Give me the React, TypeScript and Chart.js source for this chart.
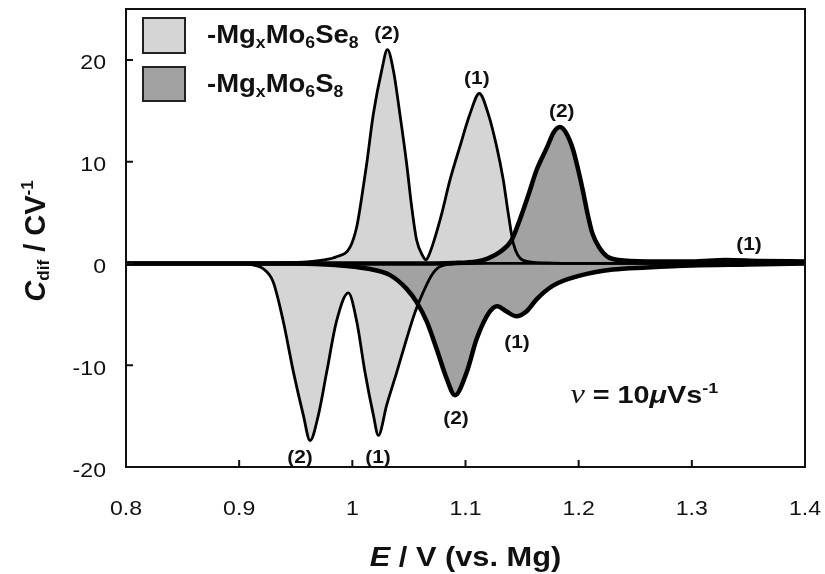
import React, { useEffect, useRef } from "react";
import { Chart, registerables } from "chart.js";

Chart.register(...registerables);

// ---- axis ticks ----
const E_TICKS = [0.8, 0.9, 1.0, 1.1, 1.2, 1.3, 1.4];
const E_TICK_LABELS = ["0.8", "0.9", "1", "1.1", "1.2", "1.3", "1.4"];
const C_TICKS = [-20, -10, 0, 10, 20];
const C_TICK_LABELS = ["-20", "-10", "0", "10", "20"];

// ---- MgxMo6Se8 : anodic (positive) branch ----
const SE_ANODIC_E = [0.8, 0.9, 0.94, 0.96, 0.972, 0.986, 0.998, 1.0039, 1.0083, 1.0127, 1.0186, 1.026, 1.031, 1.0362, 1.042, 1.048, 1.0524, 1.0568, 1.0627, 1.065, 1.067, 1.0715, 1.079, 1.0863, 1.0951, 1.104, 1.1122, 1.1201, 1.1275, 1.1334, 1.1378, 1.1422, 1.151, 1.17, 1.2, 1.4];
const SE_ANODIC_C = [0, 0, 0.05, 0.15, 0.3, 0.65, 1.6, 3.6, 6.5, 9.8, 14.7, 19.0, 21.0, 19.0, 14.7, 9.8, 5.6, 2.3, 0.65, 0.35, 0.65, 2.0, 4.9, 8.2, 11.5, 14.7, 16.7, 14.7, 11.5, 8.2, 4.9, 2.0, 0.3, 0.05, 0, 0];

// ---- MgxMo6Se8 : cathodic (negative) branch ----
const SE_CATHODIC_E = [0.8, 0.9, 0.912, 0.921, 0.93, 0.939, 0.948, 0.9567, 0.9626, 0.97, 0.9773, 0.986, 0.9965, 1.0039, 1.0112, 1.0186, 1.023, 1.0304, 1.0392, 1.048, 1.0554, 1.0627, 1.0701, 1.0775, 1.09, 1.12, 1.4];
const SE_CATHODIC_C = [0, 0, -0.15, -0.5, -1.8, -5.7, -10.7, -14.9, -17.4, -14.9, -10.7, -5.7, -2.9, -5.7, -10.7, -14.9, -16.9, -13.9, -10.7, -7.4, -4.8, -2.8, -1.15, -0.3, -0.05, 0, 0];

// ---- MgxMo6S8 : anodic (positive) branch ----
const S_ANODIC_E = [0.8, 1.05, 1.09, 1.11, 1.12, 1.13, 1.1408, 1.148, 1.1555, 1.1629, 1.172, 1.178, 1.1835, 1.189, 1.195, 1.2, 1.204, 1.208, 1.212, 1.218, 1.225, 1.24, 1.27, 1.3, 1.33, 1.36, 1.4];
const S_ANODIC_C = [0, 0, 0.05, 0.2, 0.5, 1.1, 2.3, 4.3, 6.7, 9.2, 11.4, 12.9, 13.4, 12.8, 11.2, 9, 7, 4.8, 3, 1.6, 0.7, 0.3, 0.2, 0.2, 0.35, 0.25, 0.2];

// ---- MgxMo6S8 : cathodic (negative) branch ----
const S_CATHODIC_E = [0.8, 0.95, 0.985, 1.0127, 1.0333, 1.048, 1.0568, 1.0657, 1.0745, 1.0833, 1.0907, 1.101, 1.1099, 1.121, 1.128, 1.136, 1.145, 1.154, 1.163, 1.177, 1.201, 1.23, 1.26, 1.3, 1.35, 1.4];
const S_CATHODIC_C = [0, 0, -0.15, -0.5, -1.15, -2.5, -3.8, -5.7, -8.4, -11.3, -12.95, -10.7, -7.4, -4.8, -4.2, -4.7, -5.2, -4.7, -3.5, -2.2, -1.2, -0.6, -0.4, -0.2, -0.1, 0];

// ---- peak annotations (text, E, C) ----
const PEAK_LABELS = ["(2)", "(1)", "(2)", "(1)", "(1)", "(2)", "(2)", "(1)"];
const PEAK_LABEL_E = [1.0306, 1.11, 1.185, 1.3505, 1.1455, 1.0916, 0.9538, 1.0227];
const PEAK_LABEL_C = [22.75, 18.3, 15.07, 2.0, -7.6, -15.1, -18.9, -18.9];
const RATE_LABEL_E = 1.258;
const RATE_LABEL_C = -12.95;

const SE_FILL = "#d5d5d5";
const S_FILL = "#a2a2a2";
const SANS = "'Liberation Sans', Arial, sans-serif";
const SERIF = "'Liberation Serif', 'DejaVu Serif', serif";
const SX = 1.1;

type Seg = { text: string; font: string; dy?: number };

function drawRich(ctx: CanvasRenderingContext2D, segs: Seg[], x: number, y: number, align: string, sx: number) {
  let w = 0;
  const widths: number[] = [];
  for (const s of segs) {
    ctx.font = s.font;
    const m = ctx.measureText(s.text).width;
    widths.push(m);
    w += m;
  }
  let cx = align === "center" ? -w / 2 : align === "right" ? -w : 0;
  ctx.save();
  ctx.translate(x, y);
  ctx.scale(sx, 1);
  ctx.textAlign = "left";
  ctx.textBaseline = "alphabetic";
  ctx.fillStyle = "#111";
  segs.forEach((s, i) => {
    ctx.font = s.font;
    ctx.fillText(s.text, cx, s.dy || 0);
    cx += widths[i];
  });
  ctx.restore();
}

function toPoints(xs: number[], ys: number[]) {
  return xs.map((x, i) => ({ x, y: ys[i] }));
}

const decorPlugin = {
  id: "decor",
  afterDraw(chart: any) {
    const ctx: CanvasRenderingContext2D = chart.ctx;
    const { left, right, top, bottom } = chart.chartArea;
    const xs = chart.scales.x;
    const ys = chart.scales.y;
    ctx.save();
    // frame
    ctx.strokeStyle = "#111";
    ctx.lineWidth = 2;
    ctx.strokeRect(left, top, right - left, bottom - top);
    // inward ticks
    ctx.beginPath();
    E_TICKS.forEach((v) => {
      const px = xs.getPixelForValue(v);
      ctx.moveTo(px, bottom);
      ctx.lineTo(px, bottom - 7);
    });
    C_TICKS.forEach((v) => {
      const py = ys.getPixelForValue(v);
      ctx.moveTo(left, py);
      ctx.lineTo(left + 7, py);
    });
    ctx.stroke();
    // tick labels
    E_TICKS.forEach((v, i) => {
      drawRich(ctx, [{ text: E_TICK_LABELS[i], font: `21px ${SANS}` }], xs.getPixelForValue(v), bottom + 48, "center", SX);
    });
    C_TICKS.forEach((v, i) => {
      drawRich(ctx, [{ text: C_TICK_LABELS[i], font: `21px ${SANS}` }], left - 20, ys.getPixelForValue(v) + 9.5, "right", SX);
    });
    // x title
    drawRich(
      ctx,
      [
        { text: "E", font: `italic bold 28px ${SANS}` },
        { text: " / V (vs. Mg)", font: `bold 28px ${SANS}` },
      ],
      (left + right) / 2,
      566,
      "center",
      SX
    );
    // y title (rotated)
    ctx.save();
    ctx.translate(35, (top + bottom) / 2 + 3);
    ctx.rotate(-Math.PI / 2);
    drawRich(
      ctx,
      [
        { text: "C", font: `italic bold 29px ${SANS}` },
        { text: "dif", font: `bold 17px ${SANS}`, dy: 4 },
        { text: " / CV", font: `bold 29px ${SANS}` },
        { text: "-1", font: `bold 17px ${SANS}`, dy: -12 },
      ],
      0,
      10,
      "center",
      1
    );
    ctx.restore();
    // legend
    const boxes = [
      { fill: SE_FILL, y: 18, h: 35, last: "Se", base: 43 },
      { fill: S_FILL, y: 67, h: 34, last: "S", base: 92 },
    ];
    boxes.forEach((b) => {
      ctx.fillStyle = b.fill;
      ctx.fillRect(143, b.y, 42, b.h);
      ctx.strokeStyle = "#222";
      ctx.lineWidth = 2;
      ctx.strokeRect(143, b.y, 42, b.h);
      drawRich(
        ctx,
        [
          { text: "-Mg", font: `bold 25px ${SANS}` },
          { text: "x", font: `bold 16px ${SANS}`, dy: 5 },
          { text: "Mo", font: `bold 25px ${SANS}` },
          { text: "6", font: `bold 16px ${SANS}`, dy: 5 },
          { text: b.last, font: `bold 25px ${SANS}` },
          { text: "8", font: `bold 16px ${SANS}`, dy: 5 },
        ],
        207,
        b.base,
        "left",
        SX
      );
    });
    // peak labels
    PEAK_LABELS.forEach((t, i) => {
      const px = xs.getPixelForValue(PEAK_LABEL_E[i]);
      const py = ys.getPixelForValue(PEAK_LABEL_C[i]);
      drawRich(ctx, [{ text: t, font: `bold 19px ${SANS}` }], px, py + 7, "center", SX);
    });
    // scan rate label
    drawRich(
      ctx,
      [
        { text: "\u03BD", font: `italic 27px ${SERIF}` },
        { text: " = 10", font: `bold 24px ${SANS}` },
        { text: "\u03BC", font: `italic bold 24px ${SANS}` },
        { text: "Vs", font: `bold 24px ${SANS}` },
        { text: "-1", font: `bold 15px ${SANS}`, dy: -10 },
      ],
      xs.getPixelForValue(RATE_LABEL_E),
      ys.getPixelForValue(RATE_LABEL_C) + 8,
      "center",
      1.2
    );
    ctx.restore();
  },
};

export default function App() {
  const ref = useRef<HTMLCanvasElement | null>(null);
  useEffect(() => {
    if (!ref.current) return;
    const common = {
      pointRadius: 0,
      pointHoverRadius: 0,
      cubicInterpolationMode: "monotone" as const,
      borderColor: "#000",
      borderJoinStyle: "round" as const,
      fill: "origin",
    };
    const chart = new Chart(ref.current, {
      type: "line",
      data: {
        datasets: [
          { ...common, label: "S anodic", data: toPoints(S_ANODIC_E, S_ANODIC_C), borderWidth: 4.5, backgroundColor: S_FILL },
          { ...common, label: "S cathodic", data: toPoints(S_CATHODIC_E, S_CATHODIC_C), borderWidth: 4.5, backgroundColor: S_FILL },
          { ...common, label: "Se anodic", data: toPoints(SE_ANODIC_E, SE_ANODIC_C), borderWidth: 2.8, backgroundColor: SE_FILL },
          { ...common, label: "Se cathodic", data: toPoints(SE_CATHODIC_E, SE_CATHODIC_C), borderWidth: 2.8, backgroundColor: SE_FILL },
        ] as any,
      },
      options: {
        animation: false,
        responsive: false,
        events: [],
        layout: { padding: { left: 0, top: 9, right: 20, bottom: 0 } },
        plugins: {
          legend: { display: false },
          tooltip: { enabled: false },
          filler: { drawTime: "beforeDatasetsDraw" },
        } as any,
        scales: {
          x: {
            type: "linear",
            min: 0.8,
            max: 1.4,
            grid: { display: false },
            border: { display: false },
            ticks: { display: false },
            afterFit: (s: any) => {
              s.height = 107;
            },
          },
          y: {
            type: "linear",
            min: -20,
            max: 25,
            grid: { display: false },
            border: { display: false },
            ticks: { display: false },
            afterFit: (s: any) => {
              s.width = 126;
            },
          },
        },
      },
      plugins: [decorPlugin],
    });
    return () => chart.destroy();
  }, []);
  return (
    <div style={{ position: "absolute", left: 0, top: 0, width: 825, height: 574, background: "#fff" }}>
      <canvas ref={ref} width={825} height={574} style={{ width: 825, height: 574, display: "block" }} />
    </div>
  );
}
